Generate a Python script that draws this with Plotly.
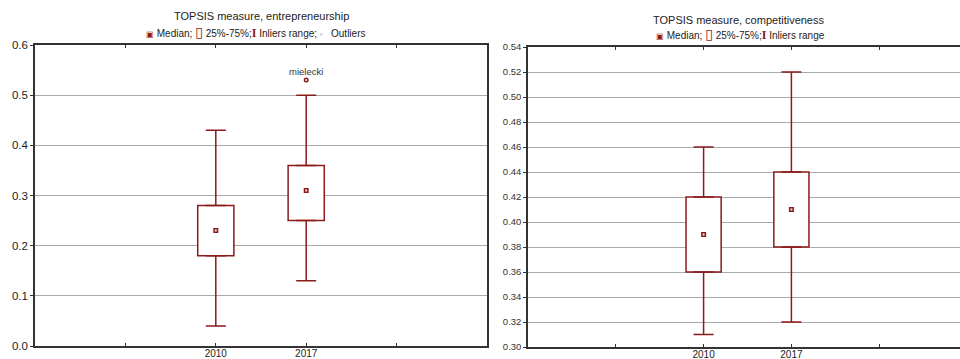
import plotly.graph_objects as go

# ---- data ----
categories = ["2010", "2017"]
cat_pos = [2, 3]

ent_min = [0.04, 0.13]
ent_q1 = [0.18, 0.25]
ent_med = [0.23, 0.31]
ent_q3 = [0.28, 0.36]
ent_max = [0.43, 0.50]
ent_outlier_x = [3]
ent_outlier_y = [0.53]
ent_outlier_label = ["mielecki"]

com_min = [0.31, 0.32]
com_q1 = [0.36, 0.38]
com_med = [0.39, 0.41]
com_q3 = [0.42, 0.44]
com_max = [0.46, 0.52]

RED = "#8b1a1a"
GRID = "#a9a9a9"
AX = "#333333"
FONT = "Liberation Sans, Arial, sans-serif"

fig = go.Figure()


def add_boxes(xa, ya, mn, q1, md, q3, mx):
    # box 25%-75%
    fig.add_trace(go.Bar(
        x=cat_pos, base=q1, y=[b - a for a, b in zip(q1, q3)], width=0.4,
        marker=dict(color="white", line=dict(color=RED, width=1.5)),
        xaxis=xa, yaxis=ya, showlegend=False, hoverinfo="skip"))
    # upper whisker
    fig.add_trace(go.Scatter(
        x=cat_pos, y=q3, mode="markers", marker=dict(size=1, opacity=0),
        error_y=dict(type="data", symmetric=False,
                     array=[b - a for a, b in zip(q3, mx)],
                     arrayminus=[0] * len(q3), color=RED, thickness=1.5, width=10),
        xaxis=xa, yaxis=ya, showlegend=False, hoverinfo="skip"))
    # lower whisker
    fig.add_trace(go.Scatter(
        x=cat_pos, y=q1, mode="markers", marker=dict(size=1, opacity=0),
        error_y=dict(type="data", symmetric=False,
                     array=[0] * len(q1),
                     arrayminus=[a - b for a, b in zip(q1, mn)], color=RED, thickness=1.5, width=10),
        xaxis=xa, yaxis=ya, showlegend=False, hoverinfo="skip"))
    # median
    fig.add_trace(go.Scatter(
        x=cat_pos, y=md, mode="markers",
        marker=dict(symbol="square", size=3.5, color="#f6e6e6", line=dict(color=RED, width=1.5)),
        xaxis=xa, yaxis=ya, showlegend=False))


add_boxes("x", "y", ent_min, ent_q1, ent_med, ent_q3, ent_max)
add_boxes("x2", "y2", com_min, com_q1, com_med, com_q3, com_max)

fig.add_trace(go.Scatter(
    x=ent_outlier_x, y=ent_outlier_y, mode="markers+text", text=ent_outlier_label,
    textposition="top center", textfont=dict(size=9.5, color="#333", family=FONT),
    marker=dict(symbol="circle", size=3.5, color="white", line=dict(color=RED, width=1.5)),
    xaxis="x", yaxis="y", showlegend=False))

xcommon = dict(showgrid=False, zeroline=False, showline=True, linecolor=AX, linewidth=1.5,
               mirror="ticks", ticks="inside", ticklen=3, tickcolor=AX, automargin=False,
               tickvals=[1, 2, 3, 4], ticktext=["", categories[0], categories[1], ""],
               ticklabelstandoff=-3,
               tickfont=dict(size=10, color="#222", family=FONT), fixedrange=True)
ycommon = dict(showgrid=True, gridcolor=GRID, gridwidth=1, zeroline=False, showline=True,
               linecolor=AX, linewidth=1.5, ticks="outside", ticklen=3, tickcolor=AX,
               automargin=False, fixedrange=True)

fig.update_layout(
    width=960, height=359, margin=dict(l=0, r=0, t=0, b=0, pad=0, autoexpand=False),
    paper_bgcolor="white", plot_bgcolor="white", barmode="overlay",
    font=dict(family=FONT, color="#222"),
    xaxis=dict(domain=[35 / 960, 487 / 960], range=[0, 5], anchor="y", **xcommon),
    yaxis=dict(domain=[(359 - 346) / 359, (359 - 45) / 359], range=[0, 0.6], dtick=0.1,
               tickformat=".1f", mirror=True, anchor="x",
               tickfont=dict(size=11.5, color="#222", family=FONT), **ycommon),
    xaxis2=dict(domain=[528 / 960, 1.0], range=[0, 432 / 87.8], anchor="y2", **xcommon),
    yaxis2=dict(domain=[(359 - 347) / 359, (359 - 47) / 359], range=[0.30, 0.54], dtick=0.02,
                tickformat=".2f", mirror=False, anchor="x2",
                tickfont=dict(size=9.5, color="#333", family=FONT), **ycommon),
)


def sym(ch, extra=""):
    return f'<span style="color:{RED}{extra}">{ch}</span>'


med_sym = sym("▣", ";font-size:8px")
box_sym = sym("▯", ";font-family:DejaVu Sans;font-size:14px")
rng_sym = sym("<b>I</b>", ";font-family:Liberation Serif;font-size:12px")
out_sym = '<span style="color:#777;font-size:8px">▫</span>'

leg1 = f'{med_sym} Median; {box_sym} 25%-75%;{rng_sym} Inliers range; {out_sym}   Outliers'
leg2 = f'{med_sym} Median; {box_sym} 25%-75%;{rng_sym} Inliers range'

anns = [
    dict(x=261, y=16, text="TOPSIS measure, entrepreneurship", size=11),
    dict(x=255, y=32, text=leg1, size=10),
    dict(x=738, y=20, text="TOPSIS measure, competitiveness", size=11),
    dict(x=740, y=34, text=leg2, size=10),
]
for a in anns:
    fig.add_annotation(x=a["x"] / 960, y=1 - a["y"] / 359, xref="paper", yref="paper",
                       text=a["text"], showarrow=False, xanchor="center", yanchor="middle",
                       font=dict(size=a["size"], color="#222", family=FONT))

fig.write_html("out.html")
